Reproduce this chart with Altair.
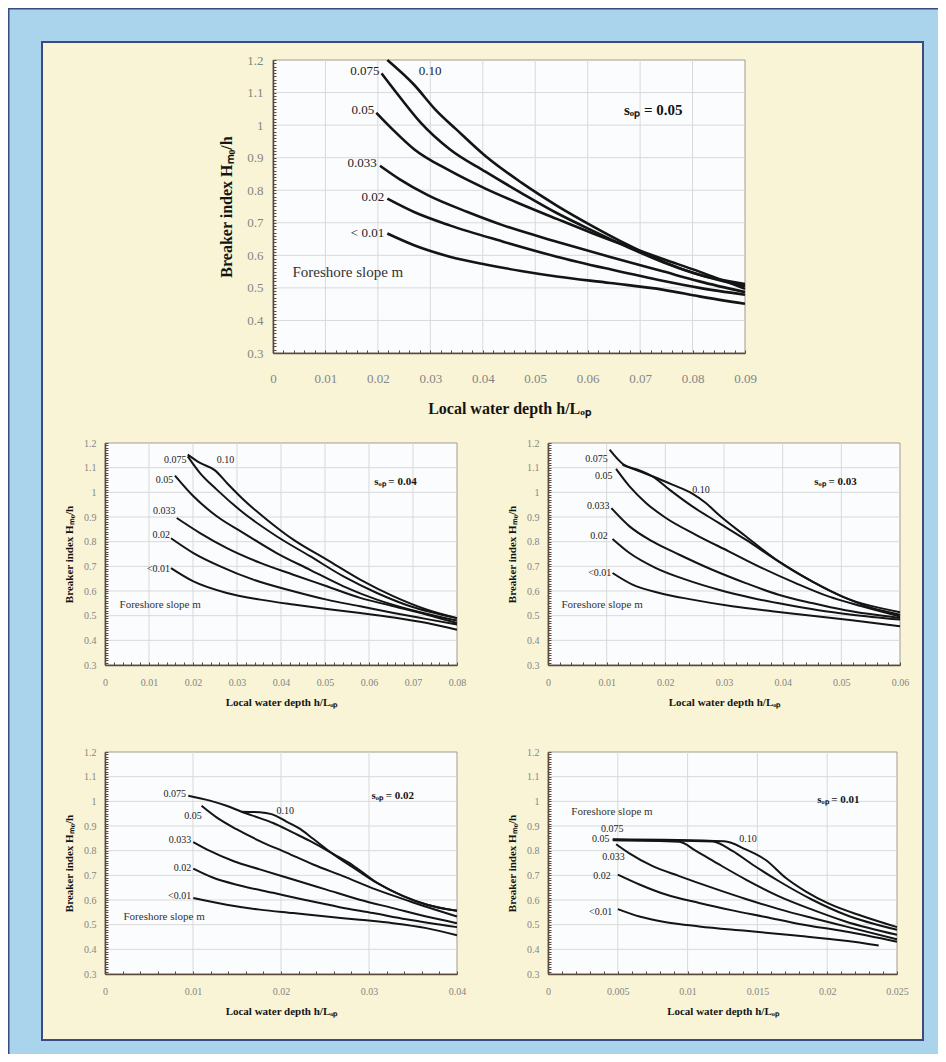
import altair as alt
import pandas as pd

# ---------------- data ----------------
Y_TICKS = [0.3, 0.4, 0.5, 0.6, 0.7, 0.8, 0.9, 1.0, 1.1, 1.2]

# panel s_op = 0.05
P05_XTICKS = [0, 0.01, 0.02, 0.03, 0.04, 0.05, 0.06, 0.07, 0.08, 0.09]
P05_LINES = {
    "0.10": ([0.0218, 0.0269, 0.031, 0.035, 0.0405, 0.0473, 0.0541, 0.0609, 0.0677, 0.0745, 0.0813, 0.09],
             [1.200, 1.124, 1.047, 0.986, 0.905, 0.824, 0.753, 0.690, 0.632, 0.580, 0.540, 0.512]),
    "0.075": ([0.0207, 0.0241, 0.0282, 0.0337, 0.0405, 0.0473, 0.0541, 0.0609, 0.0677, 0.0745, 0.0813, 0.09],
              [1.159, 1.088, 1.007, 0.926, 0.857, 0.792, 0.730, 0.676, 0.625, 0.578, 0.540, 0.505]),
    "0.05": ([0.0197, 0.0228, 0.0269, 0.0337, 0.0405, 0.0473, 0.0541, 0.0609, 0.0677, 0.0745, 0.0813, 0.09],
             [1.038, 0.987, 0.926, 0.860, 0.805, 0.757, 0.712, 0.668, 0.627, 0.588, 0.550, 0.497]),
    "0.033": ([0.0204, 0.0241, 0.0296, 0.0371, 0.0439, 0.0541, 0.0643, 0.0745, 0.0813, 0.09],
              [0.875, 0.834, 0.784, 0.733, 0.692, 0.642, 0.595, 0.550, 0.520, 0.487]),
    "0.02": ([0.0218, 0.0269, 0.0337, 0.0439, 0.0541, 0.0643, 0.0745, 0.0813, 0.09],
             [0.774, 0.733, 0.692, 0.642, 0.596, 0.557, 0.521, 0.500, 0.479]),
    "< 0.01": ([0.0218, 0.0269, 0.0337, 0.0405, 0.0473, 0.0541, 0.0643, 0.0745, 0.0813, 0.09],
               [0.667, 0.631, 0.596, 0.572, 0.552, 0.535, 0.515, 0.494, 0.474, 0.451]),
}
P05_LABEL_TEXT = ["0.075", "0.10", "0.05", "0.033", "0.02", "< 0.01", "Foreshore slope m"]
P05_LABEL_X = [0.0203, 0.0278, 0.0193, 0.0198, 0.0212, 0.0212, 0.0037]
P05_LABEL_Y = [1.165, 1.165, 1.045, 0.885, 0.780, 0.670, 0.550]
P05_LABEL_ALIGN = ["right", "left", "right", "right", "right", "right", "left"]
P05_NOTE = ("s\u2092\u209a = 0.05", 0.0725, 1.045)

# panel s_op = 0.04
P04_XTICKS = [0, 0.01, 0.02, 0.03, 0.04, 0.05, 0.06, 0.07, 0.08]
P04_LINES = {
    "0.10": ([0.0188, 0.0216, 0.0250, 0.0277, 0.0315, 0.0368, 0.0428, 0.0504, 0.0580, 0.0656, 0.0732, 0.08],
             [1.153, 1.119, 1.089, 1.038, 0.970, 0.889, 0.808, 0.727, 0.646, 0.578, 0.524, 0.490]),
    "0.075": ([0.0188, 0.0216, 0.0254, 0.0315, 0.0390, 0.0466, 0.0542, 0.0618, 0.0694, 0.08],
              [1.146, 1.078, 1.011, 0.916, 0.822, 0.741, 0.659, 0.592, 0.538, 0.490]),
    "0.05": ([0.0159, 0.0201, 0.0254, 0.0315, 0.0390, 0.0466, 0.0542, 0.0618, 0.0694, 0.08],
             [1.068, 0.984, 0.903, 0.835, 0.754, 0.686, 0.619, 0.565, 0.524, 0.480]),
    "0.033": ([0.0163, 0.0216, 0.0277, 0.0353, 0.0428, 0.0504, 0.0580, 0.0656, 0.0732, 0.08],
              [0.896, 0.835, 0.774, 0.714, 0.666, 0.619, 0.572, 0.538, 0.504, 0.470]),
    "0.02": ([0.0150, 0.0201, 0.0262, 0.0337, 0.0428, 0.0504, 0.0580, 0.0656, 0.0732, 0.08],
             [0.814, 0.754, 0.700, 0.646, 0.599, 0.565, 0.538, 0.511, 0.486, 0.464]),
    "< 0.01": ([0.0150, 0.0201, 0.0277, 0.0353, 0.0428, 0.0504, 0.0580, 0.0656, 0.0732, 0.08],
               [0.693, 0.639, 0.592, 0.565, 0.545, 0.527, 0.511, 0.493, 0.470, 0.443]),
}
P04_LABEL_TEXT = ["0.075", "0.10", "0.05", "0.033", "0.02", "<0.01", "Foreshore slope m"]
P04_LABEL_X = [0.0185, 0.0254, 0.0155, 0.0160, 0.0148, 0.0148, 0.0033]
P04_LABEL_Y = [1.132, 1.132, 1.050, 0.923, 0.828, 0.689, 0.545]
P04_LABEL_ALIGN = ["right", "left", "right", "right", "right", "right", "left"]
P04_NOTE = ("s\u2092\u209a = 0.04", 0.066, 1.040)

# panel s_op = 0.03
P03_XTICKS = [0, 0.01, 0.02, 0.03, 0.04, 0.05, 0.06]
P03_LINES = {
    "0.10": ([0.0127, 0.0156, 0.0178, 0.0212, 0.0246, 0.0269, 0.0291, 0.0337, 0.0393, 0.0450, 0.0507, 0.06],
             [1.112, 1.085, 1.065, 1.031, 0.995, 0.957, 0.909, 0.822, 0.720, 0.639, 0.572, 0.514]),
    "0.075": ([0.0105, 0.0127, 0.0156, 0.0178, 0.0207, 0.0246, 0.0291, 0.0337, 0.0393, 0.0450, 0.0507, 0.0552, 0.06],
              [1.173, 1.116, 1.089, 1.065, 1.011, 0.943, 0.876, 0.808, 0.720, 0.639, 0.572, 0.531, 0.504]),
    "0.05": ([0.0116, 0.0139, 0.0167, 0.0201, 0.0252, 0.0308, 0.0365, 0.0422, 0.0478, 0.0535, 0.06],
             [1.095, 1.024, 0.957, 0.896, 0.828, 0.761, 0.693, 0.632, 0.578, 0.538, 0.497]),
    "0.033": ([0.0108, 0.0139, 0.0178, 0.0224, 0.0280, 0.0337, 0.0393, 0.0450, 0.0507, 0.06],
              [0.936, 0.862, 0.801, 0.747, 0.686, 0.632, 0.585, 0.551, 0.522, 0.491]),
    "0.02": ([0.0110, 0.0139, 0.0184, 0.0235, 0.0291, 0.0348, 0.0405, 0.0461, 0.0518, 0.06],
             [0.811, 0.754, 0.693, 0.646, 0.605, 0.572, 0.545, 0.522, 0.504, 0.484]),
    "< 0.01": ([0.0110, 0.0144, 0.0190, 0.0246, 0.0314, 0.0382, 0.0450, 0.0518, 0.06],
               [0.673, 0.626, 0.592, 0.565, 0.538, 0.518, 0.500, 0.481, 0.457]),
}
P03_LABEL_TEXT = ["0.075", "0.05", "0.10", "0.033", "0.02", "<0.01", "Foreshore slope m"]
P03_LABEL_X = [0.0102, 0.0110, 0.0246, 0.0105, 0.0102, 0.0108, 0.0023]
P03_LABEL_Y = [1.136, 1.065, 1.011, 0.943, 0.824, 0.673, 0.545]
P03_LABEL_ALIGN = ["right", "right", "left", "right", "right", "right", "left"]
P03_NOTE = ("s\u2092\u209a = 0.03", 0.049, 1.040)

# panel s_op = 0.02
P02_XTICKS = [0, 0.01, 0.02, 0.03, 0.04]
P02_LINES = {
    "0.10": ([0.01551, 0.01759, 0.01892, 0.02062, 0.02213, 0.02365, 0.02592, 0.02819, 0.03084, 0.03386, 0.03651, 0.04],
             [0.958, 0.956, 0.948, 0.918, 0.889, 0.848, 0.786, 0.732, 0.670, 0.616, 0.582, 0.556]),
    "0.075": ([0.00946, 0.01192, 0.01381, 0.01551, 0.01759, 0.01911, 0.02138, 0.02365, 0.02592, 0.02819, 0.03084, 0.03386, 0.03651, 0.04],
              [1.023, 1.003, 0.982, 0.958, 0.932, 0.912, 0.873, 0.833, 0.787, 0.740, 0.672, 0.617, 0.582, 0.556]),
    "0.05": ([0.01097, 0.01268, 0.01494, 0.01759, 0.02062, 0.02365, 0.02705, 0.03084, 0.03462, 0.04],
             [0.982, 0.935, 0.887, 0.839, 0.792, 0.744, 0.697, 0.642, 0.595, 0.533]),
    "0.033": ([0.01003, 0.01192, 0.01457, 0.01759, 0.02138, 0.02516, 0.02894, 0.03273, 0.03651, 0.04],
              [0.835, 0.799, 0.758, 0.724, 0.683, 0.642, 0.601, 0.567, 0.533, 0.506]),
    "0.02": ([0.01003, 0.0123, 0.01532, 0.01911, 0.02289, 0.02667, 0.03046, 0.03424, 0.04],
             [0.727, 0.690, 0.659, 0.629, 0.599, 0.571, 0.547, 0.522, 0.490]),
    "< 0.01": ([0.01003, 0.01381, 0.01759, 0.02138, 0.02516, 0.02894, 0.03273, 0.03651, 0.04],
               [0.608, 0.581, 0.561, 0.547, 0.533, 0.520, 0.506, 0.486, 0.457]),
}
P02_LABEL_TEXT = ["0.075", "0.05", "0.10", "0.033", "0.02", "<0.01", "Foreshore slope m"]
P02_LABEL_X = [0.0092, 0.0110, 0.0195, 0.0098, 0.0098, 0.0098, 0.0021]
P02_LABEL_Y = [1.030, 0.941, 0.962, 0.843, 0.731, 0.615, 0.533]
P02_LABEL_ALIGN = ["right", "right", "left", "right", "right", "right", "left"]
P02_NOTE = ("s\u2092\u209a = 0.02", 0.0327, 1.023)

# panel s_op = 0.01
P01_XTICKS = [0, 0.005, 0.01, 0.015, 0.02, 0.025]
P01_LINES = {
    "0.10": ([0.00464, 0.01262, 0.01417, 0.0156, 0.01702, 0.01845, 0.02012, 0.0225, 0.025],
             [0.846, 0.838, 0.805, 0.762, 0.690, 0.635, 0.585, 0.535, 0.490]),
    "0.075": ([0.00464, 0.01179, 0.01321, 0.01464, 0.01655, 0.01893, 0.02131, 0.025],
              [0.844, 0.837, 0.799, 0.744, 0.676, 0.601, 0.540, 0.479]),
    "0.05": ([0.00464, 0.0094, 0.0106, 0.01226, 0.01417, 0.01655, 0.01893, 0.02131, 0.025],
             [0.842, 0.836, 0.799, 0.744, 0.683, 0.615, 0.561, 0.513, 0.459]),
    "0.033": ([0.00488, 0.00583, 0.0075, 0.0094, 0.01179, 0.01417, 0.01655, 0.01893, 0.02131, 0.025],
              [0.826, 0.789, 0.737, 0.697, 0.649, 0.604, 0.563, 0.527, 0.493, 0.441]),
    "0.02": ([0.005, 0.00655, 0.00845, 0.01083, 0.01321, 0.0156, 0.01798, 0.02131, 0.025],
             [0.703, 0.663, 0.622, 0.588, 0.558, 0.531, 0.503, 0.472, 0.431]),
    "< 0.01": ([0.005, 0.00655, 0.00845, 0.01083, 0.01417, 0.01774, 0.02131, 0.02369],
               [0.563, 0.533, 0.510, 0.493, 0.475, 0.456, 0.435, 0.416]),
}
P01_LABEL_TEXT = ["0.075", "0.05", "0.033", "0.02", "<0.01", "0.10", "Foreshore slope m"]
P01_LABEL_X = [0.0054, 0.0044, 0.0055, 0.0045, 0.0046, 0.0137, 0.00167]
P01_LABEL_Y = [0.887, 0.846, 0.774, 0.697, 0.550, 0.846, 0.955]
P01_LABEL_ALIGN = ["right", "right", "right", "right", "right", "left", "left"]
P01_NOTE = ("s\u2092\u209a = 0.01", 0.0208, 1.007)

# ---------------- styling / layout ----------------
PAD_L, PAD_T, PAD_R, PAD_B = 34, 34, 15, 14
W, H = 930 - PAD_L - PAD_R, 1046 - PAD_T - PAD_B   # the cream view
BLUE = "#a9d4ec"
NAVY = "#3b4a80"
CREAM = "#f9f4d6"
PLOT_BG = "#fbfcfd"
BORDER = "#a39b90"
GRID = "#d9d9d9"
AXIS_C = "#5a4a3c"
TICK_LBL = "#858585"
INK = "#141414"
SERIF = "Liberation Serif"
X_TITLE = "Local water depth h/L\u2092\u209a"
Y_TITLE = "Breaker index H\u2098\u2080/h"
MINOR_Y = [round(0.3 + i * 0.01, 2) for i in range(91)]


def panel(lines, ltext, lx, ly, lalign, note, xticks, xfmt, box, big):
    x0, x1, y0, y1 = [v - 34 for v in box]
    xmax = xticks[-1]
    xstep = (xticks[1] - xticks[0]) / 5.0
    minor_x = [round(i * xstep, 5) for i in range(int(round(xmax / xstep)) + 1)]
    tick_fs = 13 if big else 10
    title_fs = 16 if big else 11
    lab_fs = 13 if big else 10
    foot_fs = 15 if big else 11
    lw = 2.6 if big else 2.0

    xs = alt.Scale(domain=[0, xmax], range=[x0, x1], nice=False, zero=False)
    ys = alt.Scale(domain=[0.3, 1.2], range=[y1, y0], nice=False, zero=False)

    xaxis = alt.Axis(
        orient="bottom", offset=y1 - H, values=xticks, format=xfmt, grid=False,
        domainColor=AXIS_C, domainWidth=1.5, tickColor=AXIS_C, tickSize=3, tickOpacity=0,
        labelFont=SERIF, labelFontSize=tick_fs, labelColor=TICK_LBL,
        labelPadding=16 if big else 9, labelFlush=False, labelOverlap=False,
        title=X_TITLE, titleFont=SERIF, titleFontSize=title_fs, titleFontWeight="bold",
        titleColor=INK, titlePadding=15 if big else 9, zindex=2,
    )
    yaxis = alt.Axis(
        orient="left", offset=-x0, values=Y_TICKS, format=".1~f", grid=False,
        domainColor=AXIS_C, domainWidth=1.5, tickColor=AXIS_C, tickSize=3, tickOpacity=0,
        labelFont=SERIF, labelFontSize=tick_fs, labelColor=TICK_LBL,
        labelPadding=7 if big else 6, labelFlush=False, labelOverlap=False,
        title=Y_TITLE, titleFont=SERIF, titleFontSize=title_fs, titleFontWeight="bold",
        titleColor=INK, titlePadding=12 if big else 9, zindex=2,
    )
    # inward-pointing minor tick axes (placed on the bottom / left edges of the plot)
    xin = alt.Axis(
        orient="top", offset=-y1, values=minor_x, labels=False, domain=False, grid=False,
        ticks=True, tickSize=3, tickColor=AXIS_C, tickWidth=1, title=None, zindex=2,
    )
    yin = alt.Axis(
        orient="right", offset=x0 - W, values=MINOR_Y, labels=False, domain=False, grid=False,
        ticks=True, tickSize=3, tickColor=AXIS_C, tickWidth=1, title=None, zindex=2,
    )

    bg = alt.Chart(pd.DataFrame({"xa": [0.0], "xb": [xmax], "ya": [0.3], "yb": [1.2]})).mark_rect(
        fill=PLOT_BG, stroke=BORDER, strokeWidth=1
    ).encode(
        x=alt.X("xa:Q", scale=xs, axis=xaxis), x2="xb:Q",
        y=alt.Y("ya:Q", scale=ys, axis=yaxis), y2="yb:Q",
    )
    inner = alt.Chart(pd.DataFrame({"xa": [0.0], "ya": [0.3]})).mark_point(opacity=0).encode(
        x=alt.X("xa:Q", scale=xs, axis=xin),
        y=alt.Y("ya:Q", scale=ys, axis=yin),
    )
    vgrid = alt.Chart(pd.DataFrame({"xa": xticks[1:-1], "ya": 0.3, "yb": 1.2})).mark_rule(
        color=GRID, strokeWidth=1
    ).encode(
        x=alt.X("xa:Q", scale=xs, axis=None),
        y=alt.Y("ya:Q", scale=ys, axis=None), y2="yb:Q",
    )
    hgrid = alt.Chart(pd.DataFrame({"ya": Y_TICKS[1:-1], "xa": 0.0, "xb": xmax})).mark_rule(
        color=GRID, strokeWidth=1
    ).encode(
        y=alt.Y("ya:Q", scale=ys, axis=None),
        x=alt.X("xa:Q", scale=xs, axis=None), x2="xb:Q",
    )

    rows = []
    for name, (xv, yv) in lines.items():
        for a, b in zip(xv, yv):
            rows.append({"s": name, "xa": a, "ya": b})
    curves = alt.Chart(pd.DataFrame(rows)).mark_line(
        color=INK, strokeWidth=lw, interpolate="monotone"
    ).encode(
        x=alt.X("xa:Q", scale=xs, axis=None),
        y=alt.Y("ya:Q", scale=ys, axis=None),
        detail="s:N",
    )

    lab_df = pd.DataFrame({"t": ltext, "xa": lx, "ya": ly, "al": lalign})
    layers = [bg, vgrid, hgrid, inner, curves]
    for al in ["right", "left"]:
        sub = lab_df[(lab_df["al"] == al) & (lab_df["t"] != "Foreshore slope m")]
        if len(sub):
            layers.append(
                alt.Chart(sub).mark_text(
                    align=al, baseline="middle", font=SERIF, fontSize=lab_fs, color="#222222"
                ).encode(
                    x=alt.X("xa:Q", scale=xs, axis=None),
                    y=alt.Y("ya:Q", scale=ys, axis=None),
                    text="t:N",
                )
            )
    foot = lab_df[lab_df["t"] == "Foreshore slope m"]
    layers.append(
        alt.Chart(foot).mark_text(
            align="left", baseline="middle", font=SERIF, fontSize=foot_fs, color="#333333"
        ).encode(
            x=alt.X("xa:Q", scale=xs, axis=None),
            y=alt.Y("ya:Q", scale=ys, axis=None),
            text="t:N",
        )
    )
    layers.append(
        alt.Chart(pd.DataFrame({"t": [note[0]], "xa": [note[1]], "ya": [note[2]]})).mark_text(
            align="center", baseline="middle", font=SERIF, fontSize=foot_fs,
            fontWeight="bold", color=INK
        ).encode(
            x=alt.X("xa:Q", scale=xs, axis=None),
            y=alt.Y("ya:Q", scale=ys, axis=None),
            text="t:N",
        )
    )
    return layers


dummy = pd.DataFrame({"k": [0]})
edge_top = alt.Chart(dummy).mark_rule(color=NAVY, strokeWidth=1.5).encode(
    x=alt.value(-PAD_L), x2=alt.value(W + PAD_R), y=alt.value(-PAD_T + 0.75)
)
edge_left = alt.Chart(dummy).mark_rule(color=NAVY, strokeWidth=1.5).encode(
    x=alt.value(-PAD_L + 0.75), y=alt.value(-PAD_T), y2=alt.value(H + PAD_B)
)

all_layers = [edge_top, edge_left]
all_layers += panel(P05_LINES, P05_LABEL_TEXT, P05_LABEL_X, P05_LABEL_Y, P05_LABEL_ALIGN, P05_NOTE,
                    P05_XTICKS, ".2~f", (265, 737, 52, 345), True)
all_layers += panel(P04_LINES, P04_LABEL_TEXT, P04_LABEL_X, P04_LABEL_Y, P04_LABEL_ALIGN, P04_NOTE,
                    P04_XTICKS, ".2~f", (97, 449, 435, 657), False)
all_layers += panel(P03_LINES, P03_LABEL_TEXT, P03_LABEL_X, P03_LABEL_Y, P03_LABEL_ALIGN, P03_NOTE,
                    P03_XTICKS, ".2~f", (540, 892, 435, 657), False)
all_layers += panel(P02_LINES, P02_LABEL_TEXT, P02_LABEL_X, P02_LABEL_Y, P02_LABEL_ALIGN, P02_NOTE,
                    P02_XTICKS, ".2~f", (97, 449, 744, 966), False)
all_layers += panel(P01_LINES, P01_LABEL_TEXT, P01_LABEL_X, P01_LABEL_Y, P01_LABEL_ALIGN, P01_NOTE,
                    P01_XTICKS, ".3~f", (540, 889, 744, 966), False)

chart = alt.layer(*all_layers).resolve_scale(
    x="independent", y="independent"
).resolve_axis(
    x="independent", y="independent"
).properties(
    width=W, height=H, background=BLUE,
    padding={"left": PAD_L, "top": PAD_T, "right": PAD_R, "bottom": PAD_B},
    autosize=alt.AutoSizeParams(type="none"),
).configure_view(fill=CREAM, stroke=NAVY, strokeWidth=2)

chart.save("out.html", embed_options={"renderer": "svg", "actions": False})
